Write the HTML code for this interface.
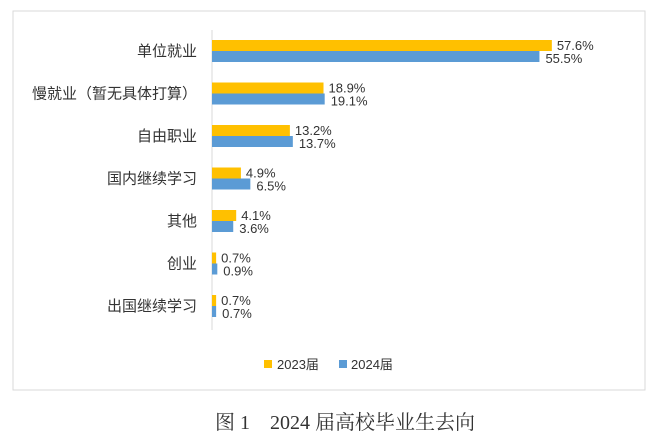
<!DOCTYPE html>
<html><head><meta charset="utf-8"><style>
body{margin:0;width:660px;height:442px;background:#fff;overflow:hidden}
svg text{font-family:"Liberation Sans","Noto Sans CJK SC",sans-serif}
</style></head><body>
<svg width="660" height="442">
<rect x="13" y="11" width="632" height="379" fill="#fff" stroke="#d9d9d9"/>
<line x1="212" y1="30" x2="212" y2="330" stroke="#d9d9d9"/>
<g id="bars"></g>
<rect x="264" y="360" width="8" height="8" fill="#FFC000"/>
<text x="277" y="369" font-size="13" fill="#333">2023届</text>
<rect x="339" y="360" width="8" height="8" fill="#5B9BD5"/>
<text x="351" y="369" font-size="13" fill="#333">2024届</text>
<text x="215" y="429" font-size="20" fill="#333" style="font-family:'Liberation Serif','Noto Serif CJK SC',serif">图 1　2024 届高校毕业生去向</text>
</svg>
<script>
const categories=["单位就业","慢就业（暂无具体打算）","自由职业","国内继续学习","其他","创业","出国继续学习"];
const values2023=[57.6,18.9,13.2,4.9,4.1,0.7,0.7];
const values2024=[55.5,19.1,13.7,6.5,3.6,0.9,0.7];
const x0=212,pxPer=5.9,rowStart=51,rowStep=42.5,bh=11;
const xs=v=>x0+v*pxPer;
const ys=i=>rowStart+i*rowStep;
const g=document.getElementById('bars');
const NS='http://www.w3.org/2000/svg';
function mk(t,a){const e=document.createElementNS(NS,t);for(const k in a)e.setAttribute(k,a[k]);g.appendChild(e);return e;}
categories.forEach((c,i)=>{
 const y=ys(i);
 const lab=mk('text',{x:197,y:y+5,'font-size':15,fill:'#333','text-anchor':'end'});
 lab.textContent=c;
 
 
 const b1=mk('rect',{x:x0,y:y-bh,width:xs(values2023[i])-x0,height:bh,fill:'#FFC000'});
 
 
 const b2=mk('rect',{x:x0,y:y,width:xs(values2024[i])-x0,height:bh,fill:'#5B9BD5'});
 
 
 const t1=mk('text',{x:xs(values2023[i])+5,y:y-1,'font-size':13,fill:'#333'});
 t1.textContent=values2023[i].toFixed(1)+'%';
 
 
 const t2=mk('text',{x:xs(values2024[i])+6,y:y+12,'font-size':13,fill:'#333'});
 t2.textContent=values2024[i].toFixed(1)+'%';
 
 
});
</script>
</body></html>
